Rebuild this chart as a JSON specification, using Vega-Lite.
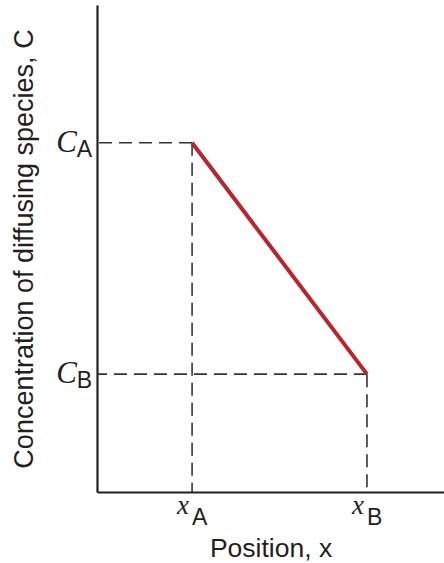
{
  "$schema": "https://vega.github.io/schema/vega-lite/v6.json",
  "width": 347,
  "height": 487,
  "autosize": "none",
  "padding": {"left": 97, "top": 5, "right": 0, "bottom": 71},
  "background": "white",
  "config": {"view": {"stroke": null}},
  "data": {"values": [
    {"name": "A", "x": 27.4, "c": 71.7},
    {"name": "B", "x": 77.8, "c": 24.2}
  ]},
  "layer": [
    {
      "mark": {"type": "rule", "color": "#333333", "strokeWidth": 1.6, "strokeDash": [13, 7]},
      "encoding": {
        "x": {"field": "x", "type": "quantitative", "scale": {"domain": [0, 100], "nice": false},
              "axis": {"title": "Position, x", "labels": false, "ticks": false, "grid": false,
                       "domainColor": "#231f20", "domainWidth": 2.2, "titleFont": "Liberation Sans",
                       "titleFontSize": 26.5, "titleFontWeight": "normal", "titleColor": "#231f20", "titlePadding": 43}},
        "x2": {"datum": 0},
        "y": {"field": "c", "type": "quantitative", "scale": {"domain": [0, 100], "nice": false},
              "axis": {"title": "Concentration of diffusing species, C", "labels": false, "ticks": false, "grid": false,
                       "domainColor": "#231f20", "domainWidth": 2.2, "titleFont": "Liberation Sans",
                       "titleFontSize": 27, "titleFontWeight": "normal", "titleColor": "#231f20", "titlePadding": 59}}
      }
    },
    {
      "mark": {"type": "rule", "color": "#333333", "strokeWidth": 1.6, "strokeDash": [13, 7]},
      "encoding": {
        "x": {"field": "x", "type": "quantitative"},
        "y": {"field": "c", "type": "quantitative"},
        "y2": {"datum": 0}
      }
    },
    {
      "mark": {"type": "line", "color": "#b5272d", "strokeWidth": 4},
      "encoding": {
        "x": {"field": "x", "type": "quantitative"},
        "y": {"field": "c", "type": "quantitative"}
      }
    },
    {
      "mark": {"type": "text", "font": "Liberation Serif", "fontStyle": "italic", "fontSize": 31, "align": "right", "baseline": "alphabetic", "dx": -20, "dy": 9, "color": "#231f20"},
      "encoding": {
        "x": {"datum": 0, "type": "quantitative"},
        "y": {"field": "c", "type": "quantitative"},
        "text": {"value": "C"}
      }
    },
    {
      "mark": {"type": "text", "font": "Liberation Sans", "fontSize": 23, "align": "right", "baseline": "alphabetic", "dx": -5, "dy": 14, "color": "#231f20"},
      "encoding": {
        "x": {"datum": 0, "type": "quantitative"},
        "y": {"field": "c", "type": "quantitative"},
        "text": {"field": "name"}
      }
    },
    {
      "mark": {"type": "text", "font": "Liberation Serif", "fontStyle": "italic", "fontSize": 27, "align": "right", "baseline": "alphabetic", "dx": -3, "dy": 22, "color": "#231f20"},
      "encoding": {
        "x": {"field": "x", "type": "quantitative"},
        "y": {"datum": 0, "type": "quantitative"},
        "text": {"value": "x"}
      }
    },
    {
      "mark": {"type": "text", "font": "Liberation Sans", "fontSize": 23, "align": "left", "baseline": "alphabetic", "dx": 0, "dy": 33, "color": "#231f20"},
      "encoding": {
        "x": {"field": "x", "type": "quantitative"},
        "y": {"datum": 0, "type": "quantitative"},
        "text": {"field": "name"}
      }
    }
  ]
}
